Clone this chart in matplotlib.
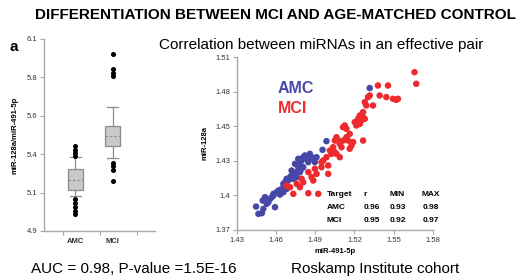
import numpy as np
import matplotlib
matplotlib.use("Agg")
import matplotlib.pyplot as plt

plt.rcParams['font.family'] = ['Liberation Sans', 'DejaVu Sans']

# ---------------- box plot data (miR-128a / miR-491-5p ratio) ----------------
groups = ['AMC', 'MCI']
box_q1 = [5.157, 5.432]
box_q3 = [5.286, 5.553]
box_mid = [5.219, 5.491]
whisk_lo = [5.121, 5.355]
whisk_hi = [5.361, 5.674]
fliers_amc = [5.43, 5.407, 5.386, 5.37, 5.098, 5.073, 5.052, 5.027, 5.004]
fliers_mci = [6.008, 5.912, 5.887, 5.866, 5.324, 5.303, 5.282, 5.215]

box_ticks = ['4.9', '5.1', '5.4', '5.6', '5.8', '6.1']

# ---------------- scatter data ----------------
amc_x = [1.4447, 1.4465, 1.4491, 1.4503, 1.4498, 1.4516, 1.4529, 1.4541, 1.4554, 1.4567,
         1.4580, 1.4592, 1.4580, 1.4605, 1.4618, 1.4630, 1.4643, 1.4656, 1.4669, 1.4681,
         1.4694, 1.4707, 1.4719, 1.4732, 1.4745, 1.4758, 1.4745, 1.4770, 1.4783, 1.4796,
         1.4808, 1.4821, 1.4834, 1.4847, 1.4859, 1.4872, 1.4885, 1.4897, 1.4910, 1.4956,
         1.4986, 1.5317, 1.4681, 1.4656, 1.4758, 1.4783, 1.4808, 1.4719, 1.4770, 1.4796]
amc_y = [1.3889, 1.3830, 1.3835, 1.3870, 1.3938, 1.3965, 1.3911, 1.3924, 1.3951, 1.3965,
         1.3978, 1.3884, 1.3992, 1.4005, 1.4019, 1.3986, 1.4032, 1.4073, 1.4086, 1.4114,
         1.4100, 1.4127, 1.4141, 1.4114, 1.4154, 1.4168, 1.4235, 1.4208, 1.4235, 1.4262,
         1.4289, 1.4303, 1.4276, 1.4249, 1.4316, 1.4289, 1.4276, 1.4249, 1.4289, 1.4349,
         1.4419, 1.4849, 1.4032, 1.4005, 1.4127, 1.4168, 1.4208, 1.4181, 1.4276, 1.4195]

mci_x = [1.4681, 1.4707, 1.4732, 1.4758, 1.4783, 1.4796, 1.4808, 1.4847, 1.4847, 1.4872,
         1.4885, 1.4897, 1.4910, 1.4923, 1.4948, 1.4961, 1.4986, 1.4999, 1.5012, 1.5024,
         1.5037, 1.5050, 1.5063, 1.5075, 1.5088, 1.5101, 1.5113, 1.5126, 1.5139, 1.5152,
         1.5164, 1.5177, 1.5190, 1.5202, 1.5215, 1.5241, 1.5253, 1.5266, 1.5241, 1.5266,
         1.5279, 1.5266, 1.5279, 1.5317, 1.5304, 1.5380, 1.5393, 1.5444, 1.5457, 1.5495,
         1.5520, 1.5533, 1.5660, 1.5673, 1.5088, 1.4999, 1.4948, 1.5050, 1.5113, 1.5164,
         1.5063, 1.5139, 1.5228, 1.5291, 1.5342]
mci_y = [1.4059, 1.4046, 1.3992, 1.4073, 1.4046, 1.4114, 1.4086, 1.3997, 1.4168, 1.4127,
         1.4100, 1.4195, 1.4154, 1.3992, 1.4208, 1.4262, 1.4289, 1.4222, 1.4343, 1.4316,
         1.4370, 1.4424, 1.4451, 1.4424, 1.4397, 1.4370, 1.4532, 1.4546, 1.4519, 1.4424,
         1.4478, 1.4384, 1.4411, 1.4573, 1.4546, 1.4559, 1.4586, 1.4614, 1.4627, 1.4654,
         1.4600, 1.4424, 1.4735, 1.4789, 1.4776, 1.4870, 1.4789, 1.4776, 1.4870, 1.4762,
         1.4754, 1.4762, 1.4978, 1.4884, 1.4289, 1.4154, 1.4249, 1.4330, 1.4424, 1.4357,
         1.4316, 1.4451, 1.4600, 1.4708, 1.4708]

sc_xticks = ['1.43', '1.46', '1.49', '1.52', '1.55', '1.58']
sc_yticks = ['1.37', '1.4', '1.43', '1.45', '1.48', '1.51']

tbl_header = ['Target', 'r', 'MIN', 'MAX']
tbl_rows = [['AMC', '0.96', '0.93', '0.98'],
            ['MCI', '0.95', '0.92', '0.97']]

BLUE = '#4747a8'
RED = '#ee2a2e'
SPINE = '#a8a8a8'

fig = plt.figure(figsize=(5.24, 2.8), dpi=100)


def style_axes(ax):
    for s in ['top', 'right']:
        ax.spines[s].set_visible(False)
    for s in ['left', 'bottom']:
        ax.spines[s].set_color(SPINE)
        ax.spines[s].set_linewidth(1.0)
    ax.tick_params(which='both', color=SPINE, length=3, width=0.8,
                   labelsize=5.5, labelcolor='#333333', pad=2)


########## box plot ##########
axb = fig.add_axes([0.084, 0.175, 0.212, 0.686])
stats = []
for i, g in enumerate(groups):
    stats.append(dict(label=g, q1=box_q1[i], q3=box_q3[i], med=box_mid[i],
                      whislo=whisk_lo[i], whishi=whisk_hi[i],
                      fliers=[fliers_amc, fliers_mci][i]))
axb.bxp(stats, positions=[0.85, 1.85], widths=0.38, capwidths=0.3,
        patch_artist=True, manage_ticks=False,
        boxprops=dict(facecolor='#c9c9c9', edgecolor='#8c8c8c', linewidth=0.9),
        medianprops=dict(color='#8c8c8c', linestyle=(0, (2, 1.5)), linewidth=0.9),
        whiskerprops=dict(color='#8c8c8c', linewidth=0.9),
        capprops=dict(color='#8c8c8c', linewidth=0.9),
        flierprops=dict(marker='o', markersize=2.6, markerfacecolor='black',
                        markeredgecolor='black', linestyle='none'))
axb.set_xlim(0, 3)
axb.set_ylim(4.9, 6.1)
axb.set_yticks(np.linspace(4.9, 6.1, 6))
axb.set_yticklabels(box_ticks)
axb.set_xticks([0.85, 1.85])
axb.set_xticklabels(groups, fontweight='bold')
axb.set_xticks([0.5, 1.5, 2.5], minor=True)
style_axes(axb)
axb.tick_params(axis='x', which='major', length=0, pad=5)
axb.set_ylabel('miR-128a/miR-491-5p', fontsize=5.5, fontweight='bold', labelpad=6)

########## scatter ##########
axs = fig.add_axes([0.452, 0.179, 0.374, 0.617])
axs.scatter(amc_x, amc_y, s=22, color=BLUE, edgecolors='none', zorder=3)
axs.scatter(mci_x, mci_y, s=22, color=RED, edgecolors='none', zorder=3)
axs.set_xlim(1.43, 1.58)
axs.set_ylim(1.37, 1.51)
axs.set_xticks(np.linspace(1.43, 1.58, 6))
axs.set_xticklabels(sc_xticks)
axs.set_yticks(np.linspace(1.37, 1.51, 6))
axs.set_yticklabels(sc_yticks)
style_axes(axs)
axs.set_xlabel('miR-491-5p', fontsize=5.5, fontweight='bold', labelpad=3)
axs.set_ylabel('miR-128a', fontsize=5.5, fontweight='bold', labelpad=5)

axs.text(0.21, 0.82, 'AMC', transform=axs.transAxes, color=BLUE,
         fontsize=11.5, fontweight='bold', ha='left', va='center')
axs.text(0.21, 0.70, 'MCI', transform=axs.transAxes, color=RED,
         fontsize=11.5, fontweight='bold', ha='left', va='center')

col_x = [0.46, 0.645, 0.82, 0.99]
row_y = [0.205, 0.13, 0.055]
for j, h in enumerate(tbl_header):
    axs.text(col_x[j], row_y[0], h, transform=axs.transAxes, fontsize=6,
             fontweight='bold', ha='left' if j < 2 else 'center', va='center')
for i, row in enumerate(tbl_rows):
    for j, v in enumerate(row):
        axs.text(col_x[j], row_y[i + 1], v, transform=axs.transAxes, fontsize=6,
                 fontweight='bold', ha='left' if j < 2 else 'center', va='center')

########## figure text ##########
fig.text(0.525, 0.948, 'DIFFERENTIATION BETWEEN MCI AND AGE-MATCHED CONTROL',
         ha='center', va='center', fontsize=11, fontweight='bold')
fig.text(0.027, 0.833, 'a', ha='center', va='center', fontsize=11, fontweight='bold')
fig.text(0.613, 0.84, 'Correlation between miRNAs in an effective pair',
         ha='center', va='center', fontsize=11)
fig.text(0.256, 0.04, 'AUC = 0.98, P-value =1.5E-16',
         ha='center', va='center', fontsize=11)
fig.text(0.716, 0.04, 'Roskamp Institute cohort',
         ha='center', va='center', fontsize=11)

fig.savefig('out.png', dpi=100)
